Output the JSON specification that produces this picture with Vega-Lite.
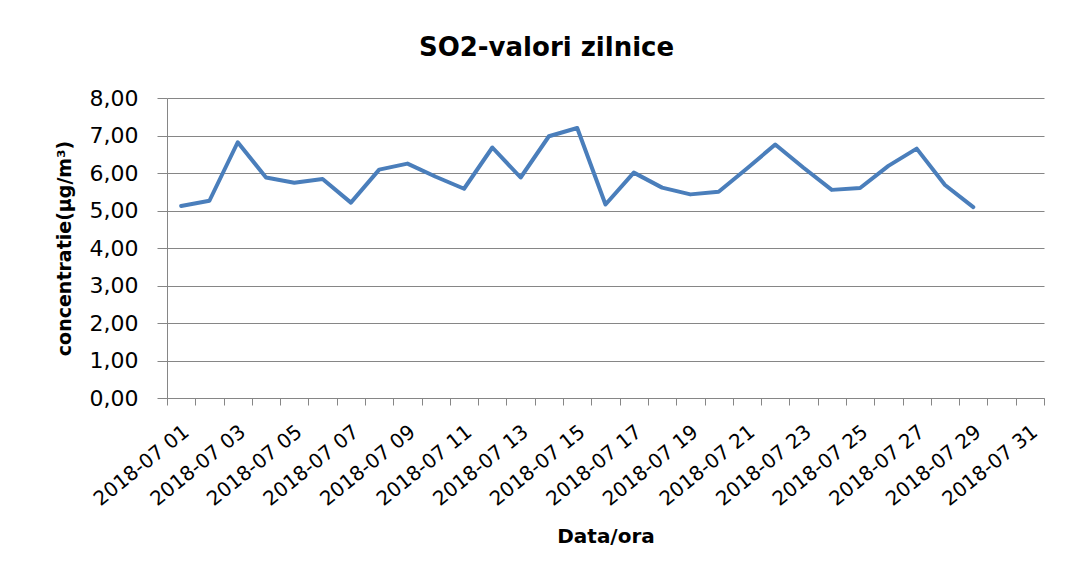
{
  "$schema": "https://vega.github.io/schema/vega-lite/v6.json",
  "width": 877,
  "height": 300,
  "autosize": "none",
  "padding": {"left": 167, "top": 98, "right": 26, "bottom": 177},
  "background": "white",
  "config": {"view": {"stroke": null}, "font": "DejaVu Sans"},
  "title": {"text": "SO2-valori zilnice", "fontSize": 26, "fontWeight": "bold", "font": "DejaVu Sans", "color": "#000000", "anchor": "middle", "dx": -59, "offset": 26},
  "data": {"values": [
    {"data": "2018-07-01", "concentratie": 5.12},
    {"data": "2018-07-02", "concentratie": 5.26},
    {"data": "2018-07-03", "concentratie": 6.82},
    {"data": "2018-07-04", "concentratie": 5.88},
    {"data": "2018-07-05", "concentratie": 5.74},
    {"data": "2018-07-06", "concentratie": 5.84},
    {"data": "2018-07-07", "concentratie": 5.21},
    {"data": "2018-07-08", "concentratie": 6.09},
    {"data": "2018-07-09", "concentratie": 6.25},
    {"data": "2018-07-10", "concentratie": 5.90},
    {"data": "2018-07-11", "concentratie": 5.58},
    {"data": "2018-07-12", "concentratie": 6.68},
    {"data": "2018-07-13", "concentratie": 5.88},
    {"data": "2018-07-14", "concentratie": 6.98},
    {"data": "2018-07-15", "concentratie": 7.20},
    {"data": "2018-07-16", "concentratie": 5.16},
    {"data": "2018-07-17", "concentratie": 6.01},
    {"data": "2018-07-18", "concentratie": 5.61},
    {"data": "2018-07-19", "concentratie": 5.43},
    {"data": "2018-07-20", "concentratie": 5.50},
    {"data": "2018-07-21", "concentratie": 6.12},
    {"data": "2018-07-22", "concentratie": 6.76},
    {"data": "2018-07-23", "concentratie": 6.14},
    {"data": "2018-07-24", "concentratie": 5.55},
    {"data": "2018-07-25", "concentratie": 5.60},
    {"data": "2018-07-26", "concentratie": 6.19},
    {"data": "2018-07-27", "concentratie": 6.65},
    {"data": "2018-07-28", "concentratie": 5.68},
    {"data": "2018-07-29", "concentratie": 5.09}
  ]},
  "mark": {"type": "line", "color": "#4a7ebb", "strokeWidth": 4, "strokeCap": "round", "strokeJoin": "round"},
  "encoding": {
    "x": {
      "field": "data", "type": "temporal", "timeUnit": "utcyearmonthdate", "bandPosition": 0.5,
      "scale": {"type": "utc", "nice": false, "domain": [{"year": 2018, "month": 7, "date": 1, "utc": true}, {"year": 2018, "month": 8, "date": 1, "utc": true}]},
      "axis": {
        "title": "Data/ora",
        "titleFont": "DejaVu Sans", "titleFontSize": 20, "titleFontWeight": "bold", "titleColor": "#000000", "titlePadding": 17,
        "values": [
          {"year": 2018, "month": 7, "date": 1, "utc": true}, {"year": 2018, "month": 7, "date": 2, "utc": true},
          {"year": 2018, "month": 7, "date": 3, "utc": true}, {"year": 2018, "month": 7, "date": 4, "utc": true},
          {"year": 2018, "month": 7, "date": 5, "utc": true}, {"year": 2018, "month": 7, "date": 6, "utc": true},
          {"year": 2018, "month": 7, "date": 7, "utc": true}, {"year": 2018, "month": 7, "date": 8, "utc": true},
          {"year": 2018, "month": 7, "date": 9, "utc": true}, {"year": 2018, "month": 7, "date": 10, "utc": true},
          {"year": 2018, "month": 7, "date": 11, "utc": true}, {"year": 2018, "month": 7, "date": 12, "utc": true},
          {"year": 2018, "month": 7, "date": 13, "utc": true}, {"year": 2018, "month": 7, "date": 14, "utc": true},
          {"year": 2018, "month": 7, "date": 15, "utc": true}, {"year": 2018, "month": 7, "date": 16, "utc": true},
          {"year": 2018, "month": 7, "date": 17, "utc": true}, {"year": 2018, "month": 7, "date": 18, "utc": true},
          {"year": 2018, "month": 7, "date": 19, "utc": true}, {"year": 2018, "month": 7, "date": 20, "utc": true},
          {"year": 2018, "month": 7, "date": 21, "utc": true}, {"year": 2018, "month": 7, "date": 22, "utc": true},
          {"year": 2018, "month": 7, "date": 23, "utc": true}, {"year": 2018, "month": 7, "date": 24, "utc": true},
          {"year": 2018, "month": 7, "date": 25, "utc": true}, {"year": 2018, "month": 7, "date": 26, "utc": true},
          {"year": 2018, "month": 7, "date": 27, "utc": true}, {"year": 2018, "month": 7, "date": 28, "utc": true},
          {"year": 2018, "month": 7, "date": 29, "utc": true}, {"year": 2018, "month": 7, "date": 30, "utc": true},
          {"year": 2018, "month": 7, "date": 31, "utc": true}, {"year": 2018, "month": 8, "date": 1, "utc": true}
        ],
        "labelExpr": "utcdate(datum.value) % 2 == 1 && utcmonth(datum.value) == 6 ? utcFormat(datum.value, '%Y-%m %d') : ''",
        "labelAngle": -39, "labelAlign": "right", "labelBaseline": "middle", "labelOffset": 19, "labelPadding": 24,
        "labelFont": "DejaVu Sans", "labelFontSize": 20, "labelColor": "#000000",
        "labelOverlap": false, "labelBound": false, "labelFlush": false,
        "grid": false, "domainColor": "#868686", "domainWidth": 1, "tickColor": "#868686", "tickSize": 7, "tickWidth": 1
      }
    },
    "y": {
      "field": "concentratie", "type": "quantitative",
      "scale": {"domain": [0, 8], "nice": false},
      "axis": {
        "title": "concentratie(μg/m³)",
        "titleFont": "DejaVu Sans", "titleFontSize": 19, "titleFontWeight": "bold", "titleColor": "#000000", "titlePadding": 15,
        "values": [0, 1, 2, 3, 4, 5, 6, 7, 8],
        "labelExpr": "replace(format(datum.value, '.2f'), '.', ',')",
        "labelFont": "DejaVu Sans", "labelFontSize": 22, "labelColor": "#000000", "labelPadding": 19,
        "grid": true, "gridColor": "#868686", "gridWidth": 1,
        "domainColor": "#868686", "domainWidth": 1, "tickColor": "#868686", "tickSize": 10, "tickWidth": 1
      }
    }
  }
}
